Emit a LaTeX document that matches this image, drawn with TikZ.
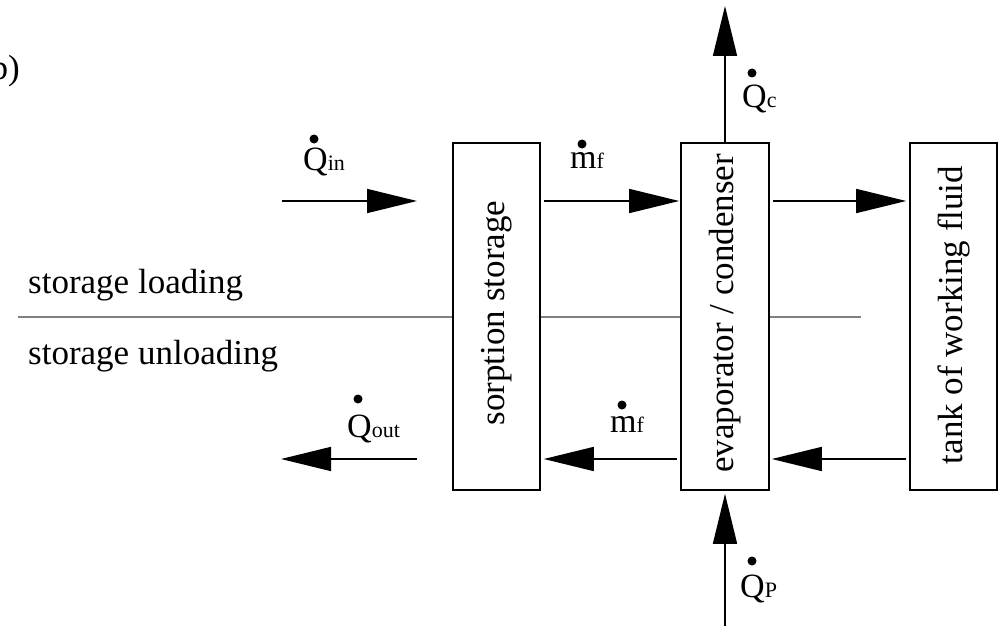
\documentclass[tikz,border=0pt]{standalone}
\usepackage{fontspec}
\setmainfont{Liberation Serif}
\usetikzlibrary{arrows.meta,calc}
\newcommand{\subtxt}[1]{{\fontsize{22}{22}\selectfont #1}}
\begin{document}
\begin{tikzpicture}[x=1pt,y=-1pt,
  box/.style={draw,line width=1.6pt,fill=white,minimum width=87pt,minimum height=347pt,inner sep=0pt},
  flow/.style={line width=1.6pt,-{Triangle[length=50pt,width=24pt]}},
  big/.style={font=\fontsize{35}{40}\selectfont,inner sep=0pt},
  lbl/.style={anchor=base west,inner sep=0pt,font=\fontsize{34}{34}\selectfont},
  sep/.style={draw=gray,line width=1.2pt}]
\useasboundingbox (0,0) rectangle (1005,626);

% separator line
\coordinate (sepL) at (18,317);
\coordinate (sepR) at (861,317);
\draw[sep] (sepL) -- (sepR);

% boxes
\node[box] (sorp) at (496.5,316.5) {};
\node[box,minimum width=88pt] (evap) at (725,316.5) {};
\node[box] (tank) at (953.5,316.5) {};
\node[big,rotate=90] (sorpT) at (497,313) {sorption storage};
\node[big,rotate=90] (evapT) at (725,313.5) {evaporator / condenser};
\node[big,rotate=90] (tankT) at (954,315) {tank of working fluid};

% left texts
\node[big,anchor=base east] (blbl) at (20,80) {b)};
\node[big,anchor=base west] (load) at (28,293) {storage loading};
\node[big,anchor=base west] (unload) at (28,364) {storage unloading};

% rows
\coordinate (r1) at (0,201);
\coordinate (r2) at (0,459);

% upper row
\coordinate (qinS) at (282,201);
\coordinate (qinE) at (417,201);
\draw[flow] (qinS) -- (qinE);
\draw[flow,shorten <=3pt,shorten >=1pt] (sorp.east |- r1) -- (evap.west |- r1);
\draw[flow,shorten <=3pt,shorten >=3pt] (evap.east |- r1) -- (tank.west |- r1);

% lower row
\coordinate (qoutS) at (417,459);
\coordinate (qoutE) at (281,459);
\draw[flow] (qoutS) -- (qoutE);
\draw[flow,shorten <=3pt,shorten >=3pt] (evap.west |- r2) -- (sorp.east |- r2);
\draw[flow,shorten <=3pt,shorten >=2pt] (tank.west |- r2) -- (evap.east |- r2);

% vertical
\coordinate (qcE) at (725,6);
\coordinate (qpS) at (725,626);
\draw[flow] (evap.north) -- (qcE);
\draw[flow,shorten >=3pt] (qpS) -- (evap.south);

% labels
\node[lbl] (qin) at (303,170) {Q\subtxt{in}};
\fill ([shift={(11,-31)}]qin.base west) circle (4.5pt);
\node[lbl] (mf1) at (570,168) {m\subtxt{f}};
\fill ([shift={(12,-24)}]mf1.base west) circle (4.5pt);
\node[lbl] (mf2) at (610,432) {m\subtxt{f}};
\fill ([shift={(12,-27)}]mf2.base west) circle (4.5pt);
\node[lbl] (qout) at (347,437) {Q\subtxt{out}};
\fill ([shift={(11,-38)}]qout.base west) circle (4.5pt);
\node[lbl] (qc) at (742,107) {Q\subtxt{c}};
\fill ([shift={(10,-34)}]qc.base west) circle (4.5pt);
\node[lbl] (qp) at (740,597) {Q\subtxt{P}};
\fill ([shift={(12,-36)}]qp.base west) circle (4.5pt);
\end{tikzpicture}
\end{document}
